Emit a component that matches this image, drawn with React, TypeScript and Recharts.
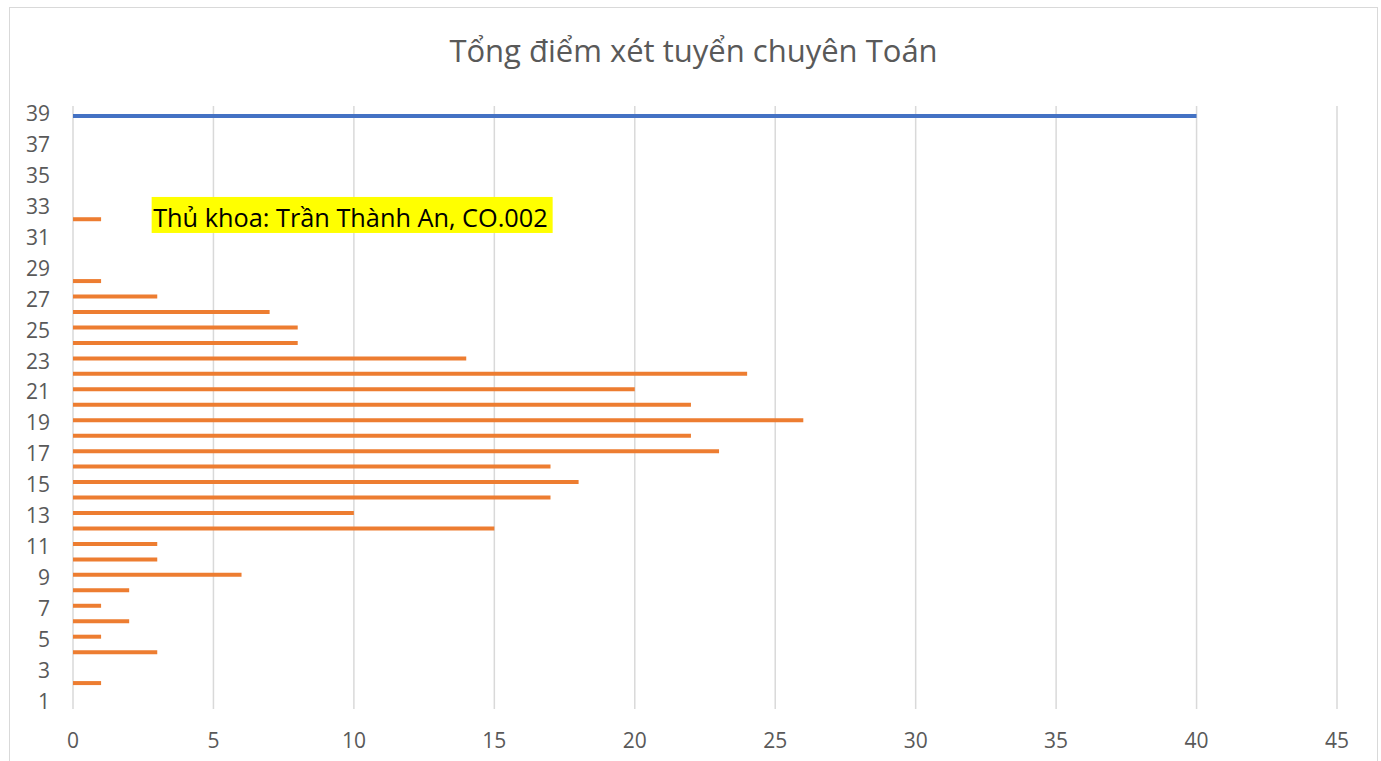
import { BarChart, Bar, XAxis, YAxis, CartesianGrid, ReferenceDot } from 'recharts'

// Tổng điểm (category) 1..39
const categories = [
  1, 2, 3, 4, 5, 6, 7, 8, 9, 10,
  11, 12, 13, 14, 15, 16, 17, 18, 19, 20,
  21, 22, 23, 24, 25, 26, 27, 28, 29, 30,
  31, 32, 33, 34, 35, 36, 37, 38, 39,
]
// số thí sinh theo tổng điểm
const counts = [
  0, 1, 0, 3, 1, 2, 1, 2, 6, 3,
  3, 15, 10, 17, 18, 17, 23, 22, 26, 22,
  20, 24, 14, 8, 8, 7, 3, 1, 0, 0,
  0, 1, 0, 0, 0, 0, 0, 0, 0,
]
// thang điểm tối đa (chỉ ở mức 39)
const maxScore = [
  null, null, null, null, null, null, null, null, null, null,
  null, null, null, null, null, null, null, null, null, null,
  null, null, null, null, null, null, null, null, null, null,
  null, null, null, null, null, null, null, null, 40,
]
const xTicks = [0, 5, 10, 15, 20, 25, 30, 35, 40, 45]

const title = 'Tổng điểm xét tuyển chuyên Toán'
const note = 'Thủ khoa: Trần Thành An, CO.002'
const noteX = 2.8
const noteCat = 32

const data = categories.map((c, i) => ({ cat: c, count: counts[i], max: maxScore[i] }))

const FONT = '"Open Sans", "Noto Sans", sans-serif'
const GRAY = '#595959'

function NoteShape(props: { cx?: number; cy?: number }) {
  const cx = props.cx ?? 0
  const cy = props.cy ?? 0
  return (
    <g>
      <rect x={cx} y={cy - 25} width={401} height={36} fill="#FFFF00" />
      <text x={cx + 1.5} y={cy + 5} fontSize={25.3} fontFamily={FONT} fill="#000">{note}</text>
    </g>
  )
}

export default function App() {
  return (
    <div style={{
      position: 'absolute', left: 9, top: 7, width: 1369, height: 760,
      border: '1px solid #d9d9d9', boxSizing: 'border-box', fontFamily: FONT, background: '#fff',
    }}>
      <div style={{
        position: 'absolute', left: 0, right: 0, top: 27, textAlign: 'center',
        fontSize: 31, lineHeight: 1, color: GRAY,
      }}>
        {title}
      </div>
      <BarChart
        width={1367} height={758} data={data} layout="vertical"
        margin={{ top: 98, right: 40, left: 0, bottom: 0 }}
        barGap={1}
      >
        <CartesianGrid horizontal={false} stroke="#d9d9d9" strokeWidth={1.5} />
        <XAxis
          type="number" domain={[0, 45]} ticks={xTicks} interval={0}
          axisLine={false} tickLine={false} tickSize={0} tickMargin={24} height={57}
          tick={{ fontSize: 21, fill: GRAY, fontFamily: FONT }}
        />
        <YAxis
          type="category" dataKey="cat" reversed interval={1} width={63}
          axisLine={false} tickLine={false} tickSize={0} tickMargin={23}
          tick={{ fontSize: 21, fill: GRAY, fontFamily: FONT }}
        />
        <Bar dataKey="count" fill="#ED7D31" barSize={4} isAnimationActive={false} />
        <Bar dataKey="max" fill="#4472C4" barSize={4} isAnimationActive={false} />
        <ReferenceDot x={noteX} y={noteCat} shape={<NoteShape />} />
      </BarChart>
    </div>
  )
}
